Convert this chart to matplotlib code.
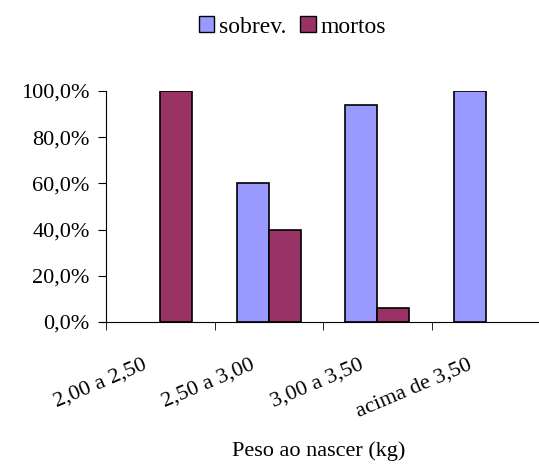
import matplotlib.pyplot as plt
from matplotlib.patches import Patch
from matplotlib.ticker import FixedLocator
import numpy as np

plt.rcParams['font.family'] = ['Liberation Serif', 'DejaVu Serif']

faixas = ["2,00 a 2,50", "2,50 a 3,00", "3,00 a 3,50", "acima de 3,50"]
sobrev = [0.0, 60.0, 93.75, 100.0]
mortos = [100.0, 40.0, 6.25, 0.0]
yticks = [0, 20, 40, 60, 80, 100]

cor_sobrev = "#9999FF"
cor_mortos = "#993366"

fig = plt.figure(figsize=(5.39, 4.66), dpi=100)
ax = fig.add_axes([0.197, 0.309, 0.805, 0.496])

x = np.arange(len(faixas))
w = 0.295
for desl, vals, cor in [(-w / 2, sobrev, cor_sobrev), (w / 2, mortos, cor_mortos)]:
    barras = ax.bar(x + desl, vals, w, color=cor, edgecolor="black", linewidth=1.2)
    # barras de valor zero não aparecem
    for b, v in zip(barras, vals):
        if v == 0:
            b.set_visible(False)

ax.set_xlim(-0.5, len(faixas) - 0.5)
ax.set_ylim(0, 100)
ax.set_yticks(yticks)
ax.set_yticklabels([f"{v:.1f}%".replace(".", ",") for v in yticks], fontsize=16)

# rótulos inclinados perto do centro de cada faixa, traços nas divisões
ax.set_xticks(x - 0.17)
ax.set_xticklabels(faixas, fontsize=16, rotation=23, ha="right",
                   rotation_mode="anchor")
ax.tick_params(axis="x", which="major", length=0, pad=24)
ax.xaxis.set_minor_locator(FixedLocator(np.arange(-0.5, len(faixas), 1.0)))
ax.tick_params(axis="x", which="minor", length=6, direction="out")
ax.tick_params(axis="y", length=6, direction="out", pad=6)

for lado in ["top", "right"]:
    ax.spines[lado].set_visible(False)
ax.spines["bottom"].set_bounds(-0.55, 3.5)

ax.set_xlabel("Peso ao nascer (kg)", fontsize=16)
ax.xaxis.set_label_coords(0.49, -0.515)

handles = [Patch(facecolor=cor_sobrev, edgecolor="black", label="sobrev."),
           Patch(facecolor=cor_mortos, edgecolor="black", label="mortos")]
fig.legend(handles=handles, loc="center", bbox_to_anchor=(0.542, 0.942), ncol=2,
           frameon=False, fontsize=17, handlelength=0.65, handleheight=0.65,
           handletextpad=0.2, columnspacing=0.6)

fig.savefig("out.png", dpi=100)
